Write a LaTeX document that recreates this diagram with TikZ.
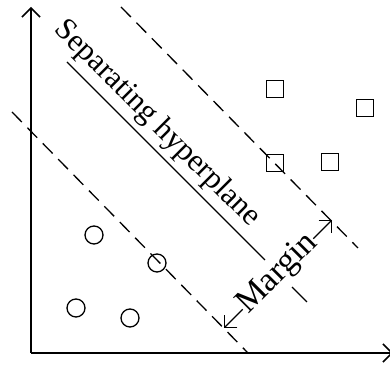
\documentclass[tikz,border=0pt]{standalone}
\usepackage{fontspec}
\setmainfont{Liberation Serif}
\usetikzlibrary{arrows.meta}

\begin{document}
\begin{tikzpicture}[x=0.5pt,y=0.5pt,
  every node/.style={font=\fontsize{15.5}{18}\selectfont},
  thinline/.style={line width=0.65pt},
  dashline/.style={line width=0.65pt,dash pattern=on 7pt off 4pt},
  axis/.style={line width=0.75pt,-{Straight Barb[length=4.5pt,width=9pt]}},
  marginarrow/.style={line width=0.65pt,{Straight Barb[length=4.5pt,width=9pt]}-{Straight Barb[length=4.5pt,width=9pt]}}]
  \useasboundingbox (0,0) rectangle (390,367);
  % axes
  \coordinate (O) at (31,14);
  \coordinate (ytop) at (31,360);
  \coordinate (xend) at (393,14);
  \draw[axis] (O) -- (ytop);
  \draw[axis] (O) -- (xend);
  % margins
  \draw[dashline] (121,360) -- (358,119);
  \draw[dashline] (12,255) -- (248,14);
  % hyperplane
  \draw[thinline] (67,305) -- (307,65);
  \node[rotate=-45] (seplabel) at (157,243) {Separating hyperplane};
  % margin width
  \coordinate (mleft) at (224,39);
  \coordinate (mright) at (332,147);
  \draw[marginarrow] (mleft) -- node[sloped,fill=white,inner xsep=0pt,inner ysep=2pt,font=\fontsize{17}{20}\selectfont] (marginlabel) {Margin} (mright);
  % class 1
  \foreach \x/\y in {94/132,157/104,76/59,130/49} {
    \draw[thinline] (\x,\y) circle (9);
  }
  % class 2
  \foreach \x/\y in {275/278,365/259,275/204,330/205} {
    \draw[thinline] (\x-8.5,\y-8.5) rectangle (\x+8.5,\y+8.5);
  }
\end{tikzpicture}
\end{document}
